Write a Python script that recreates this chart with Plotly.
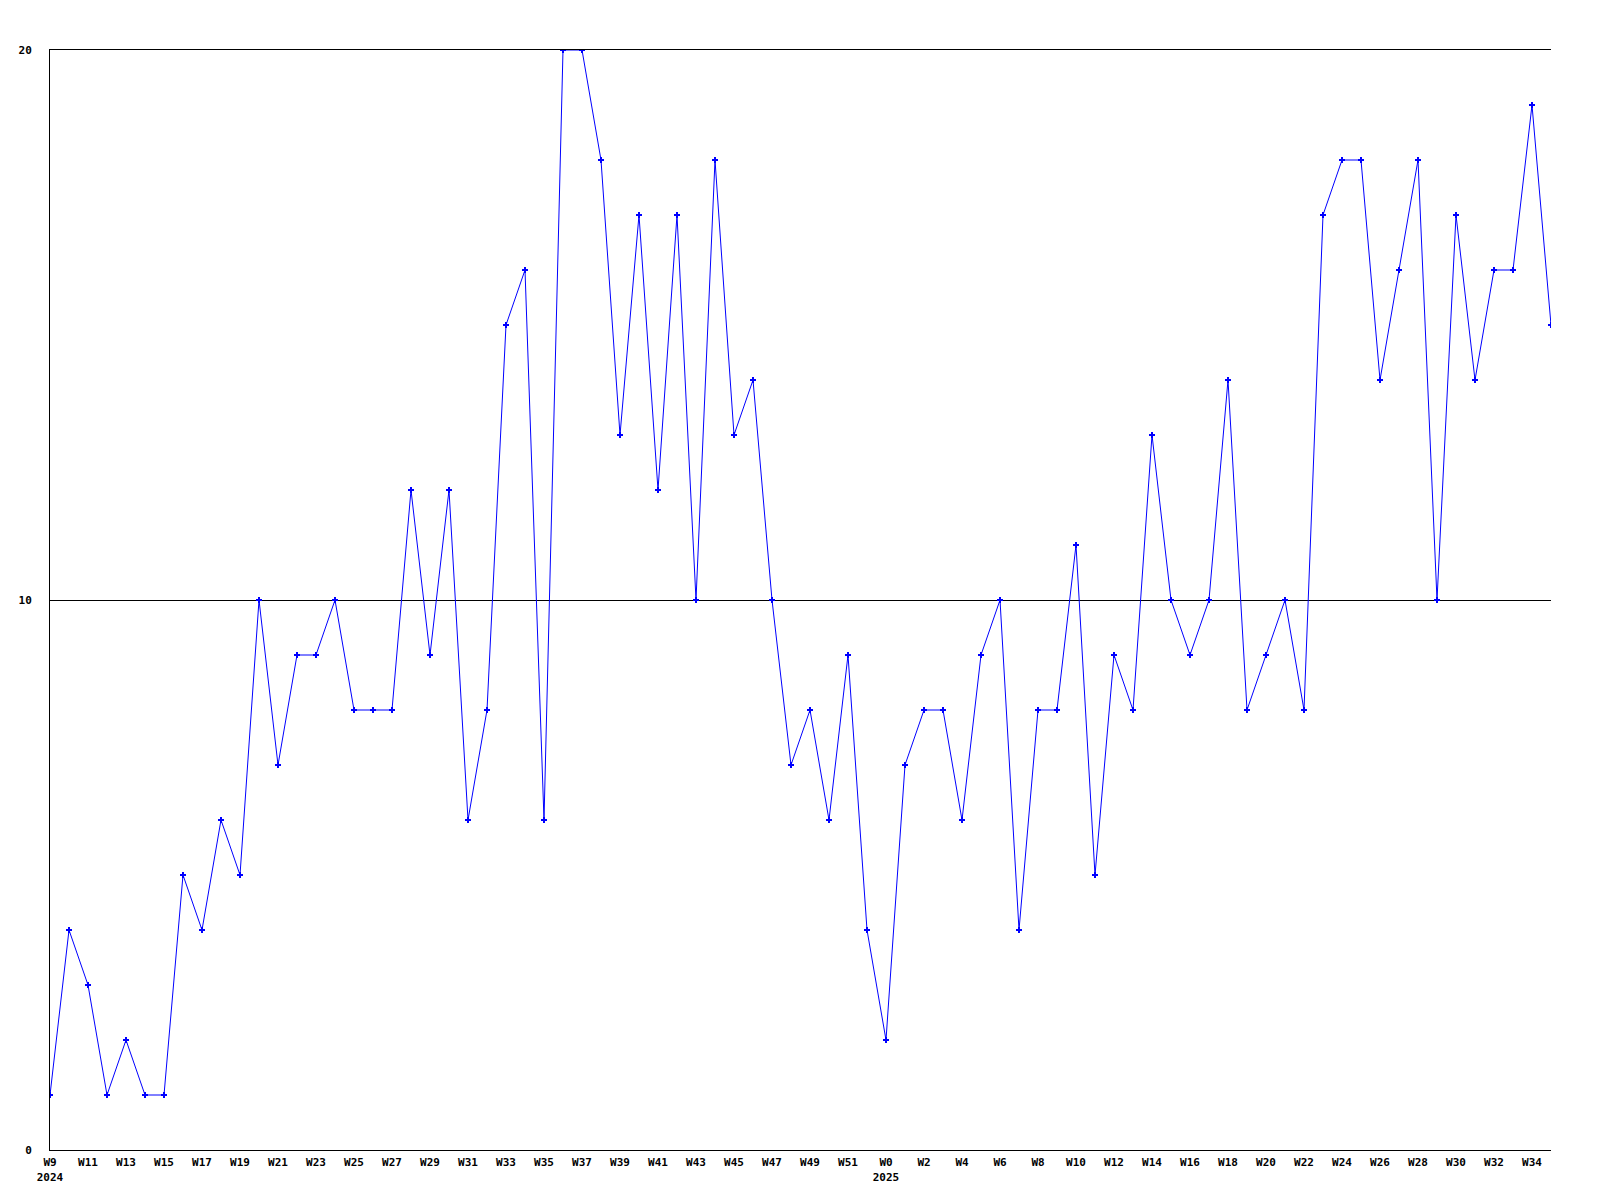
import plotly.graph_objects as go

weeks_2024 = [f"W{w}" for w in range(9, 53)]
weeks_2025 = [f"W{w}" for w in range(0, 36)]
week_labels = weeks_2024 + weeks_2025

values = [1, 4, 3, 1, 2, 1, 1, 5, 4, 6, 5, 10, 7, 9, 9, 10, 8, 8, 8, 12,
          9, 12, 6, 8, 15, 16, 6, 20, 20, 18, 13, 17, 12, 17, 10, 18, 13, 14, 10, 7,
          8, 6, 9, 4, 2, 7, 8, 8, 6, 9, 10, 4, 8, 8, 11, 5, 9, 8, 13, 10,
          9, 10, 14, 8, 9, 10, 8, 17, 18, 18, 14, 16, 18, 10, 17, 14, 16, 16, 19, 15]

year_starts = {"W9": "2024", "W0": "2025"}
y_ticks = [0, 10, 20]

x = list(range(len(values)))
tickvals = x[::2]
ticktext = []
for i in tickvals:
    lab = week_labels[i]
    if lab in year_starts and (i == 0 or lab == "W0"):
        ticktext.append(lab + "<br>" + year_starts[lab])
    else:
        ticktext.append(lab)

fig = go.Figure()
fig.add_trace(go.Scatter(
    x=x, y=values, mode="lines+markers",
    line=dict(color="#0000ff", width=1),
    marker=dict(symbol="cross", size=5, color="#0000ff"),
    hoverinfo="skip",
))

font = dict(family="DejaVu Sans Mono", size=11, color="black", weight="bold")

fig.update_layout(
    width=1600, height=1200,
    margin=dict(l=42, r=57, t=42, b=58),
    paper_bgcolor="white", plot_bgcolor="white",
    showlegend=False,
    xaxis=dict(
        range=[0, len(values) - 1],
        tickmode="array", tickvals=tickvals, ticktext=ticktext,
        tickfont=font, showgrid=False, zeroline=False,
        showline=True, mirror=True, linecolor="black", linewidth=1,
        ticks="", ticklabelstandoff=2,
    ),
    yaxis=dict(
        range=[0, 20],
        tickmode="array", tickvals=y_ticks, ticktext=[str(v) for v in y_ticks],
        tickfont=font, showgrid=True, gridcolor="black", gridwidth=1,
        zeroline=False, showline=True, linecolor="black", linewidth=1,
        ticks="", ticklabelstandoff=15,
    ),
)

fig.write_html("out.html")
